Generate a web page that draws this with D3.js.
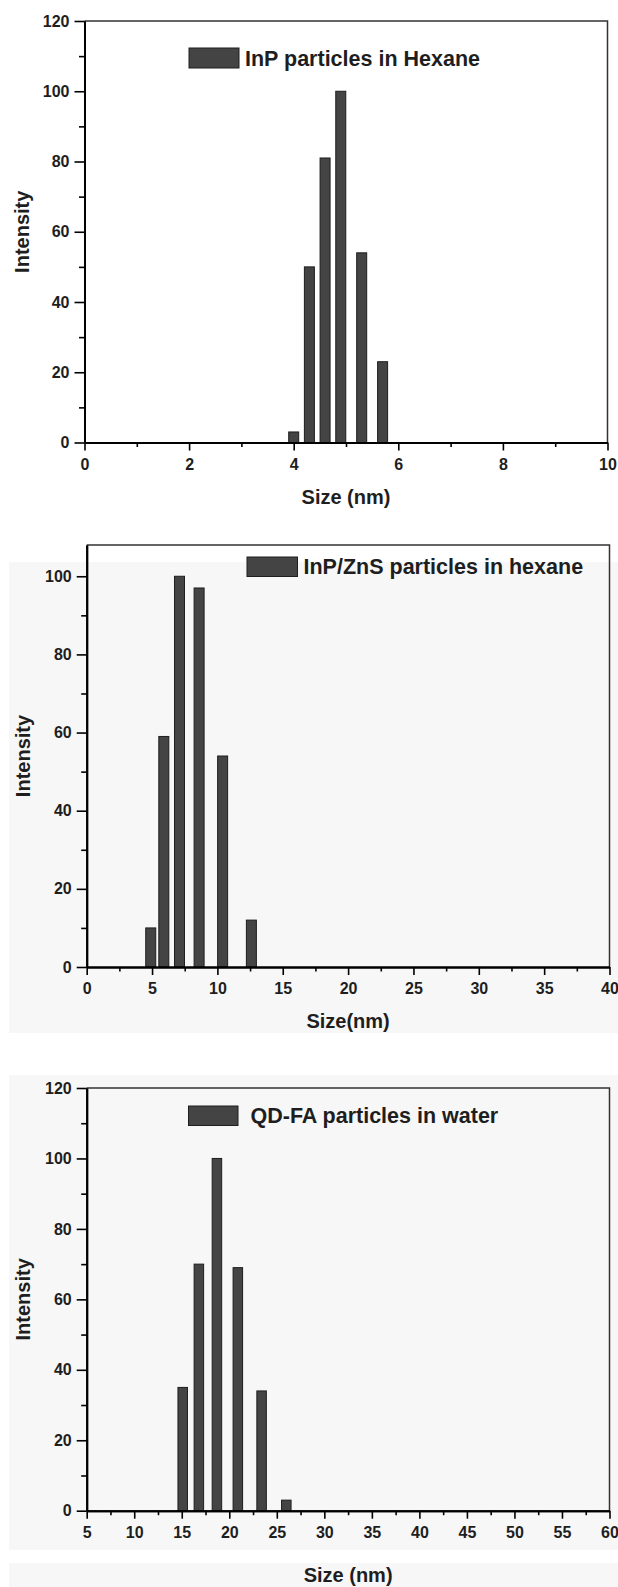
<!DOCTYPE html>
<html>
<head>
<meta charset="utf-8">
<title>Particle size distributions</title>
<script src="https://cdn.jsdelivr.net/npm/d3@7"></script>
<style>
  body { margin: 0; background: #fff; }
  svg { display: block; font-family: "Liberation Sans", Arial, sans-serif; }
  .axis path, .axis line { stroke: #000; }
  .axis path { stroke-width: 2px; }
  .axis line { stroke-width: 1.6px; }
  .axis text { font-size: 16px; font-weight: bold; fill: #1e1e1e; font-family: "Liberation Sans", Arial, sans-serif; }
  .frame { fill: none; stroke: #333; stroke-width: 1.5px; }
  .bar { fill: #444; stroke: #1e1e1e; stroke-width: 1px; }
  .title { font-size: 20px; font-weight: bold; fill: #1e1e1e; }
  .legend text { font-size: 21.5px; font-weight: bold; fill: #1e1e1e; }
</style>
</head>
<body>
<div id="chart"></div>
<script>
// panel 1 - InP in hexane
var inpSizes = [4.0, 4.3, 4.6, 4.9, 5.3, 5.7];
var inpIntensity = [3, 50, 81, 100, 54, 23];
// panel 2 - InP/ZnS in hexane
var znsSizes = [4.9, 5.9, 7.1, 8.6, 10.4, 12.6];
var znsIntensity = [10, 59, 100, 97, 54, 12];
// panel 3 - QD-FA in water
var qdSizes = [15.1, 16.8, 18.7, 20.9, 23.4, 26.0];
var qdIntensity = [35, 70, 100, 69, 34, 3];

var legendNames = ["InP particles in Hexane", "InP/ZnS particles in hexane", "QD-FA particles in water"];
var xTitles = ["Size (nm)", "Size(nm)", "Size (nm)"];
var yTitle = "Intensity";

var xTicks1 = [0, 2, 4, 6, 8, 10], xMinor1 = [1, 3, 5, 7, 9];
var xTicks2 = [0, 5, 10, 15, 20, 25, 30, 35, 40], xMinor2 = [2.5, 7.5, 12.5, 17.5, 22.5, 27.5, 32.5, 37.5];
var xTicks3 = [5, 10, 15, 20, 25, 30, 35, 40, 45, 50, 55, 60], xMinor3 = [7.5, 12.5, 17.5, 22.5, 27.5, 32.5, 37.5, 42.5, 47.5, 52.5, 57.5];
var yTicks1 = [0, 20, 40, 60, 80, 100, 120], yMinor1 = [10, 30, 50, 70, 90, 110];
var yTicks2 = [0, 20, 40, 60, 80, 100], yMinor2 = [10, 30, 50, 70, 90];

var W = 618, H = 1587;
var svg = d3.select("#chart").append("svg").attr("width", W).attr("height", H);

// faint grey scan background behind lower two panels
svg.append("rect").attr("x", 9).attr("y", 562).attr("width", W - 9).attr("height", 471).attr("fill", "#f7f7f7");
svg.append("rect").attr("x", 9).attr("y", 1075).attr("width", W - 9).attr("height", 475).attr("fill", "#f7f7f7");
svg.append("rect").attr("x", 9).attr("y", 1563).attr("width", W - 9).attr("height", 24).attr("fill", "#f7f7f7");

var panels = [
  { sizes: inpSizes, vals: inpIntensity, xd: [0, 10], yd: [0, 120], left: 84.5, right: 607.5, top: 21, bottom: 442.5,
    xt: xTicks1, xm: xMinor1, yt: yTicks1, ym: yMinor1, barW: 10,
    leg: { x: 189, y: 48, w: 50, h: 20, tx: 245 }, titleY: 497, ylabX: 22 },
  { sizes: znsSizes, vals: znsIntensity, xd: [0, 40], yd: [0, 108], left: 86.7, right: 609.5, top: 545, bottom: 967,
    xt: xTicks2, xm: xMinor2, yt: yTicks2, ym: yMinor2, barW: 10,
    leg: { x: 247, y: 557, w: 50.5, h: 19.5, tx: 303.5 }, titleY: 1021, ylabX: 23 },
  { sizes: qdSizes, vals: qdIntensity, xd: [5, 60], yd: [0, 120], left: 86.7, right: 609.5, top: 1088, bottom: 1510.7,
    xt: xTicks3, xm: xMinor3, yt: yTicks1, ym: yMinor1, barW: 9.5,
    leg: { x: 188.5, y: 1106, w: 49.5, h: 19.5, tx: 250.5 }, titleY: 1575, ylabX: 23 }
];

panels.forEach(function(p, i) {
  var x = d3.scaleLinear().domain(p.xd).range([p.left, p.right]);
  var y = d3.scaleLinear().domain(p.yd).range([p.bottom, p.top]);
  var g = svg.append("g");

  // top + right frame
  g.append("path").attr("class", "frame")
    .attr("d", "M" + x(p.xd[0]) + "," + y(p.yd[1]) + "H" + x(p.xd[1]) + "V" + y(p.yd[0]));

  // bars
  g.selectAll(".bar").data(p.sizes).enter().append("rect")
    .attr("class", "bar")
    .attr("x", function(d) { return x(d) - p.barW / 2; })
    .attr("width", p.barW)
    .attr("y", function(d, j) { return y(p.vals[j]); })
    .attr("height", function(d, j) { return y(0) - y(p.vals[j]); });

  // minor ticks
  g.append("g").attr("class", "axis")
    .attr("transform", "translate(0," + y(p.yd[0]) + ")")
    .call(d3.axisBottom(x).tickValues(p.xm).tickSize(4.5).tickSizeOuter(0).tickFormat(""));
  g.append("g").attr("class", "axis")
    .attr("transform", "translate(" + x(p.xd[0]) + ",0)")
    .call(d3.axisLeft(y).tickValues(p.ym).tickSize(5.5).tickSizeOuter(0).tickFormat(""));

  // major ticks
  g.append("g").attr("class", "axis")
    .attr("transform", "translate(0," + y(p.yd[0]) + ")")
    .call(d3.axisBottom(x).tickValues(p.xt).tickSize(8).tickPadding(8).tickSizeOuter(0).tickFormat(d3.format("d")));
  g.append("g").attr("class", "axis")
    .attr("transform", "translate(" + x(p.xd[0]) + ",0)")
    .call(d3.axisLeft(y).tickValues(p.yt).tickSize(10).tickPadding(5).tickSizeOuter(0).tickFormat(d3.format("d")));

  // axis titles
  g.append("text").attr("class", "title")
    .attr("x", (p.left + p.right) / 2).attr("y", p.titleY).attr("dy", "0.35em")
    .attr("text-anchor", "middle").text(xTitles[i]);
  g.append("text").attr("class", "title")
    .attr("transform", "translate(" + p.ylabX + "," + (p.top + p.bottom) / 2 + ") rotate(-90)")
    .attr("dy", "0.35em").attr("text-anchor", "middle").text(yTitle);

  // legend
  var leg = g.append("g").attr("class", "legend");
  leg.append("rect").attr("class", "bar")
    .attr("x", p.leg.x).attr("y", p.leg.y).attr("width", p.leg.w).attr("height", p.leg.h);
  leg.append("text").attr("x", p.leg.tx).attr("y", p.leg.y + p.leg.h / 2).attr("dy", "0.35em")
    .text(legendNames[i]);
});
</script>
</body>
</html>
